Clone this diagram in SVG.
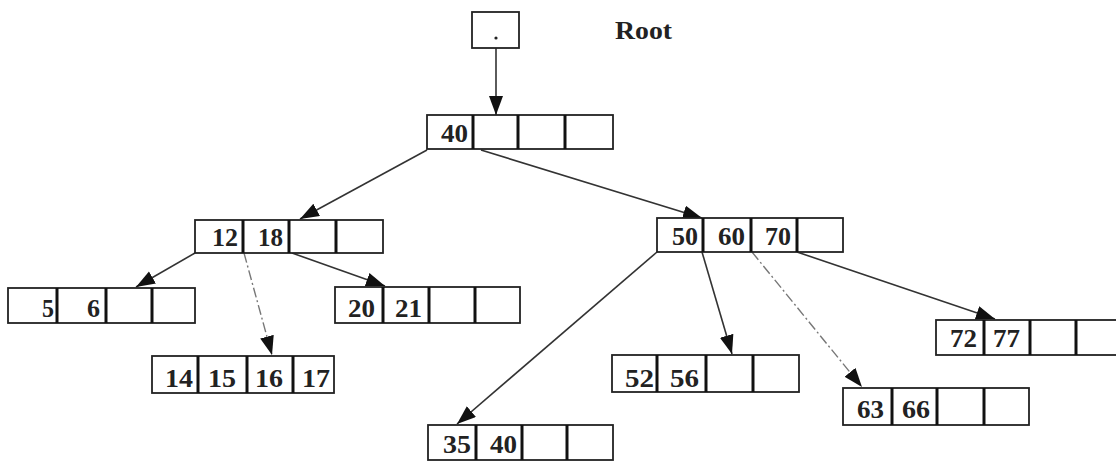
<svg xmlns="http://www.w3.org/2000/svg" width="1116" height="462" viewBox="0 0 1116 462">
<style>
.box{fill:#fff;stroke:#222;stroke-width:1.8}
.div{stroke:#111;stroke-width:3}
.t{font-family:"Liberation Serif","Times New Roman",serif;font-weight:700;font-size:25px;fill:#222}
.c{stroke:#333;stroke-width:1.6;fill:none}
.dd{stroke:#777;stroke-width:1.4;stroke-dasharray:10 3 2 3;fill:none}
</style>
<defs>
<marker id="ah" markerUnits="userSpaceOnUse" markerWidth="22" markerHeight="16" refX="19" refY="7" orient="auto">
<path d="M0,0 L19,7 L0,14 z" fill="#111"/>
</marker>
</defs>
<rect width="1116" height="462" fill="#fff"/>
<g id="connectors">
<line class="c" x1="496" y1="48" x2="496" y2="115" marker-end="url(#ah)"/>
<line class="c" x1="427" y1="150" x2="300" y2="219" marker-end="url(#ah)"/>
<line class="c" x1="481" y1="150" x2="702" y2="218" marker-end="url(#ah)"/>
<line class="c" x1="195" y1="253" x2="136" y2="287" marker-end="url(#ah)"/>
<line class="dd" x1="244" y1="253" x2="272" y2="355" marker-end="url(#ah)"/>
<line class="c" x1="292" y1="253" x2="385" y2="286" marker-end="url(#ah)"/>
<line class="c" x1="657" y1="252" x2="457" y2="424" marker-end="url(#ah)"/>
<line class="c" x1="702" y1="252" x2="732" y2="354" marker-end="url(#ah)"/>
<line class="dd" x1="752" y1="252" x2="862" y2="387" marker-end="url(#ah)"/>
<line class="c" x1="797" y1="252" x2="995" y2="319" marker-end="url(#ah)"/>
</g>
<g id="root">
<rect class="box" x="472" y="12" width="47" height="36"/>
<circle cx="496" cy="38" r="1.6" fill="#222"/>
<text class="t" x="615" y="39" font-size="23" textLength="57" lengthAdjust="spacingAndGlyphs">Root</text>
</g>
<g id="n40">
<rect class="box" x="427" y="115" width="186" height="34"/>
<line class="div" x1="473" y1="115" x2="473" y2="149"/><line class="div" x1="518" y1="115" x2="518" y2="149"/><line class="div" x1="565" y1="115" x2="565" y2="149"/>
<text class="t" x="441" y="142" textLength="27" lengthAdjust="spacingAndGlyphs">40</text>
</g>
<g id="n12">
<rect class="box" x="195" y="220" width="188" height="33"/>
<line class="div" x1="243" y1="220" x2="243" y2="253"/><line class="div" x1="289" y1="220" x2="289" y2="253"/><line class="div" x1="336" y1="220" x2="336" y2="253"/>
<text class="t" x="212" y="246" textLength="26" lengthAdjust="spacingAndGlyphs">12</text>
<text class="t" x="258" y="246" textLength="25" lengthAdjust="spacingAndGlyphs">18</text>
</g>
<g id="n50">
<rect class="box" x="657" y="218" width="186" height="34"/>
<line class="div" x1="703" y1="218" x2="703" y2="252"/><line class="div" x1="751" y1="218" x2="751" y2="252"/><line class="div" x1="797" y1="218" x2="797" y2="252"/>
<text class="t" x="672" y="245" textLength="26" lengthAdjust="spacingAndGlyphs">50</text>
<text class="t" x="718" y="245" textLength="27" lengthAdjust="spacingAndGlyphs">60</text>
<text class="t" x="765" y="245" textLength="26" lengthAdjust="spacingAndGlyphs">70</text>
</g>
<g id="n5">
<rect class="box" x="8" y="288" width="187" height="35"/>
<line class="div" x1="57" y1="288" x2="57" y2="323"/><line class="div" x1="106" y1="288" x2="106" y2="323"/><line class="div" x1="152" y1="288" x2="152" y2="323"/>
<text class="t" x="42" y="317" textLength="12" lengthAdjust="spacingAndGlyphs">5</text>
<text class="t" x="87" y="317" textLength="13" lengthAdjust="spacingAndGlyphs">6</text>
</g>
<g id="n14">
<rect class="box" x="152" y="356" width="182" height="37"/>
<line class="div" x1="198" y1="356" x2="198" y2="393"/><line class="div" x1="247" y1="356" x2="247" y2="393"/><line class="div" x1="293" y1="356" x2="293" y2="393"/>
<text class="t" x="165" y="387" textLength="28" lengthAdjust="spacingAndGlyphs">14</text>
<text class="t" x="208" y="387" textLength="28" lengthAdjust="spacingAndGlyphs">15</text>
<text class="t" x="255" y="387" textLength="28" lengthAdjust="spacingAndGlyphs">16</text>
<text class="t" x="302" y="387" textLength="28" lengthAdjust="spacingAndGlyphs">17</text>
</g>
<g id="n20">
<rect class="box" x="335" y="287" width="185" height="36"/>
<line class="div" x1="383" y1="287" x2="383" y2="323"/><line class="div" x1="429" y1="287" x2="429" y2="323"/><line class="div" x1="475" y1="287" x2="475" y2="323"/>
<text class="t" x="348" y="317" textLength="27" lengthAdjust="spacingAndGlyphs">20</text>
<text class="t" x="395" y="317" textLength="27" lengthAdjust="spacingAndGlyphs">21</text>
</g>
<g id="n52">
<rect class="box" x="612" y="355" width="187" height="37"/>
<line class="div" x1="657" y1="355" x2="657" y2="392"/><line class="div" x1="706" y1="355" x2="706" y2="392"/><line class="div" x1="753" y1="355" x2="753" y2="392"/>
<text class="t" x="625" y="387" textLength="29" lengthAdjust="spacingAndGlyphs">52</text>
<text class="t" x="670" y="387" textLength="29" lengthAdjust="spacingAndGlyphs">56</text>
</g>
<g id="n72">
<rect class="box" x="936" y="320" width="186" height="35"/>
<line class="div" x1="984" y1="320" x2="984" y2="355"/><line class="div" x1="1030" y1="320" x2="1030" y2="355"/><line class="div" x1="1076" y1="320" x2="1076" y2="355"/>
<text class="t" x="950" y="347" textLength="27" lengthAdjust="spacingAndGlyphs">72</text>
<text class="t" x="993" y="347" textLength="27" lengthAdjust="spacingAndGlyphs">77</text>
</g>
<g id="n63">
<rect class="box" x="843" y="388" width="186" height="37"/>
<line class="div" x1="892" y1="388" x2="892" y2="425"/><line class="div" x1="937" y1="388" x2="937" y2="425"/><line class="div" x1="984" y1="388" x2="984" y2="425"/>
<text class="t" x="857" y="418" textLength="27" lengthAdjust="spacingAndGlyphs">63</text>
<text class="t" x="902" y="418" textLength="28" lengthAdjust="spacingAndGlyphs">66</text>
</g>
<g id="n35">
<rect class="box" x="428" y="425" width="185" height="35"/>
<line class="div" x1="476" y1="425" x2="476" y2="460"/><line class="div" x1="522" y1="425" x2="522" y2="460"/><line class="div" x1="567" y1="425" x2="567" y2="460"/>
<text class="t" x="443" y="453" textLength="28" lengthAdjust="spacingAndGlyphs">35</text>
<text class="t" x="490" y="453" textLength="27" lengthAdjust="spacingAndGlyphs">40</text>
</g>
</svg>
